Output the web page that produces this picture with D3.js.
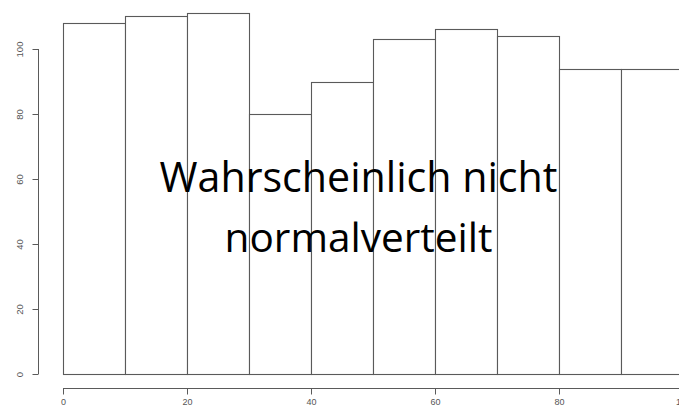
<!DOCTYPE html>
<html>
<head>
<meta charset="utf-8">
<script src="https://cdn.jsdelivr.net/npm/d3@7"></script>
<style>
  html, body { margin: 0; padding: 0; background: #fff; overflow: hidden; }
  svg { display: block; }
</style>
</head>
<body>
<svg id="chart" width="679" height="408"></svg>
<script>
// Histogram bins (lower edges, width 10) and counts
const binStarts = [0, 10, 20, 30, 40, 50, 60, 70, 80, 90];
const binWidth = 10;
const counts = [108, 110, 111, 80, 90, 103, 106, 104, 94, 94];
const xTicks = [0, 20, 40, 60, 80, 100];
const yTicks = [0, 20, 40, 60, 80, 100];
const overlayLines = ["Wahrscheinlich nicht", "normalverteilt"];

const svg = d3.select("#chart");

const x = d3.scaleLinear().domain([0, 100]).range([63, 683]);
const y = d3.scaleLinear().domain([0, 100]).range([374, 49]);

const lineColor = "#5a5a5a";
const labelFont = "'Liberation Sans', Arial, sans-serif";

// Bars
svg.append("g")
  .selectAll("rect")
  .data(binStarts)
  .join("rect")
  .attr("x", (d) => Math.round(x(d)) + 0.5)
  .attr("y", (d, i) => Math.round(y(counts[i])) + 0.5)
  .attr("width", (d) => Math.round(x(d + binWidth)) - Math.round(x(d)))
  .attr("height", (d, i) => Math.round(y(0)) - Math.round(y(counts[i])))
  .attr("fill", "#fff")
  .attr("stroke", lineColor)
  .attr("stroke-width", 1.1);

// Y axis (labels rotated, R style)
const yAxis = d3.axisLeft(y).tickValues(yTicks).tickSize(6).tickPadding(9);
const gy = svg.append("g")
  .attr("transform", "translate(38.5,0)")
  .call(yAxis);
gy.select(".domain").attr("stroke", lineColor).attr("d", `M-0,${y(0)}V${y(100)}`);
gy.selectAll(".tick line").attr("stroke", lineColor);
gy.selectAll(".tick text")
  .attr("font-family", labelFont)
  .attr("font-size", 9.5)
  .attr("fill", "#555")
  .attr("text-anchor", "middle")
  .attr("x", null)
  .attr("transform", "translate(-16,0) rotate(-90)")
  .attr("dy", "0");

// X axis; labels sit at the bottom edge
const xAxis = d3.axisBottom(x).tickValues(xTicks).tickSize(6).tickPadding(4);
const gx = svg.append("g")
  .attr("transform", "translate(0,388.5)")
  .call(xAxis);
gx.select(".domain").attr("stroke", lineColor).attr("d", `M${x(0)},0H${x(100)}`);
gx.selectAll(".tick line").attr("stroke", lineColor);
gx.selectAll(".tick text")
  .attr("font-family", labelFont)
  .attr("font-size", 9)
  .attr("fill", "#555");

// Overlay caption, sized so each line spans its intended width
const caption = svg.append("g");
const targets = [
  { text: overlayLines[0], cx: 358.5, baseline: 192, width: 398 },
  { text: overlayLines[1], cx: 358.5, baseline: 252, width: 268 }
];
targets.forEach((t) => {
  const txt = caption.append("text")
    .attr("x", t.cx)
    .attr("y", t.baseline)
    .attr("text-anchor", "middle")
    .attr("font-family", "'Open Sans', 'Noto Sans', sans-serif")
    .attr("font-size", 40)
    .attr("fill", "#000")
    .text(t.text);
  const w = txt.node().getComputedTextLength();
  txt.attr("font-size", 40 * t.width / w);
});
</script>
</body>
</html>
